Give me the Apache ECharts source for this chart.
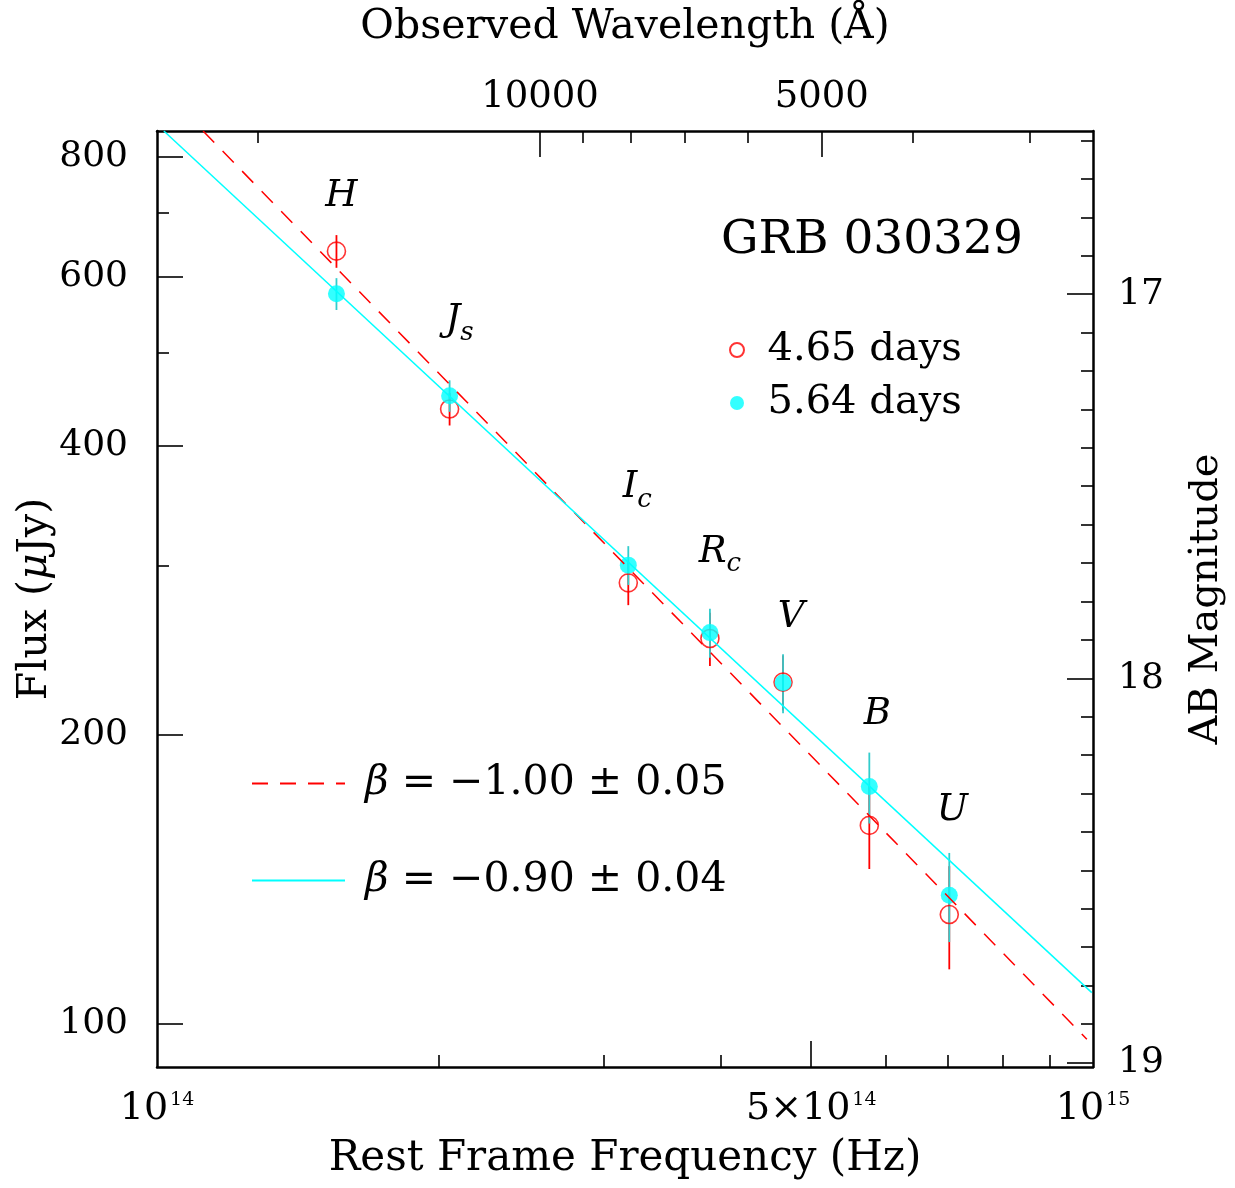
<!DOCTYPE html>
<html>
<head>
<meta charset="utf-8">
<script src="https://cdn.jsdelivr.net/npm/echarts@6/dist/echarts.min.js"></script>
<style>html,body{margin:0;padding:0;background:#fff}#c{width:1235px;height:1188px}</style>
</head>
<body>
<div id="c"></div>
<script>
// ---------------- data ----------------
const bandNames = ['H', 'J_s', 'I_c', 'R_c', 'V', 'B', 'U'];
const bandFreqHz = [1.555e14, 2.054e14, 3.188e14, 3.897e14, 4.665e14, 5.768e14, 7.022e14];
const fluxDay465 = [638, 437, 288, 252, 227, 161, 130];
const errDay465 = [25, 17, 15, 16, 15, 16, 16];
const fluxDay564 = [576, 451, 300.5, 255.6, 226.7, 176.7, 136.2];
const errDay564 = [22, 17, 14, 15, 16, 15, 14.5];
const epochLabels = ['4.65 days', '5.64 days'];

const fitRedFreqHz = [1.12e14, 9.85e14];
const fitRedFlux = [851, 96.4];
const fitCyanFreqHz = [1.017e14, 9.97e14];
const fitCyanFlux = [851, 107.8];
const fitLabels = ['β = −1.00 ± 0.05', 'β = −0.90 ± 0.04'];

const fluxMajorTicks = [100, 200, 400, 600, 800];
const fluxMinorTicks = [300, 500, 700];
const freqMajorTicks = [5e14];
const freqMinorTicks = [2e14, 3e14, 4e14, 6e14, 7e14, 8e14, 9e14];
const freqLabelTicks = [1e14, 5e14, 1e15];
const freqTickLabels = ['10^14', '5×10^14', '10^15'];
const waveMajorTicks = [10000, 5000];
const waveMinorTicks = [20000, 9000, 8000, 7000, 6000, 4000, 3000];
const magMajorTicks = [17, 18, 19];
const magMinorTicks = [16.6, 16.7, 16.8, 16.9, 17.1, 17.2, 17.3, 17.4, 17.5, 17.6, 17.7, 17.8, 17.9,
                       18.1, 18.2, 18.3, 18.4, 18.5, 18.6, 18.7, 18.8, 18.9];
const redshift = 0.1685;
const titleText = 'GRB 030329';

// ---------------- layout / style ----------------
const FREQ_MIN = 1e14, FREQ_MAX = 1e15;
const FLUX_MIN = 90.2, FLUX_MAX = 851;
const AB_ZERO_UJY = 23.9;
const C_ANG = 2.998e18;
const toMag = f => AB_ZERO_UJY - 2.5 * Math.log10(f);
const waveToFreq = w => C_ANG / (w * (1 + redshift));
const freqToWave = f => C_ANG / (f * (1 + redshift));
const MAG_TOP = toMag(FLUX_MAX), MAG_BOTTOM = toMag(FLUX_MIN);
// keep tick values a hair inside the axis extent so float rounding does not drop the end labels
const insideFreq = v => Math.min(Math.max(v, FREQ_MIN * (1 + 1e-9)), FREQ_MAX * (1 - 1e-9));

const bandLabelOffsets = [[5, -55], [10, -72], [9, -74], [10, -77], [8, -65], [8, -72], [3, -85]];

const SERIF = 'DejaVu Serif';
const RED = '#ff0000';
const CYAN = '#00ffff';
const CYAN_BAR = '#33cccc';
const tickLine = { color: '#000', width: 1.6 };
const frameLine = { color: '#000', width: 2.5 };
const minorLen = 12, majorLen = 26;

function nearestIndex(arr, v, logScale) {
  let best = 0, bd = Infinity;
  arr.forEach((a, i) => {
    const d = logScale ? Math.abs(Math.log10(a) - Math.log10(v)) : Math.abs(a - v);
    if (d < bd) { bd = d; best = i; }
  });
  return best;
}

function baseAxis(extra) {
  return Object.assign({
    splitLine: { show: false },
    minorTick: { show: false },
    minorSplitLine: { show: false },
    axisPointer: { show: false },
    nameMoveOverlap: false
  }, extra);
}

const xAxes = [
  baseAxis({ type: 'log', logBase: 10, position: 'bottom', min: FREQ_MIN, max: FREQ_MAX,
    axisLine: { show: true, onZero: false, lineStyle: frameLine },
    axisTick: { show: true, inside: true, length: minorLen, lineStyle: tickLine, customValues: freqMinorTicks },
    axisLabel: { show: false } }),
  baseAxis({ type: 'log', logBase: 10, position: 'bottom', min: FREQ_MIN, max: FREQ_MAX,
    axisLine: { show: false, onZero: false },
    axisTick: { show: true, inside: true, length: majorLen, lineStyle: tickLine, customValues: freqMajorTicks },
    axisLabel: { show: true, customValues: freqLabelTicks.map(insideFreq), margin: 23, color: '#000',
      showMinLabel: true, showMaxLabel: true, hideOverlap: false,
      formatter: v => {
        const s = freqTickLabels[nearestIndex(freqLabelTicks, v, true)].split('^');
        return '{b|' + s[0] + '}{e|' + s[1] + '}';
      },
      rich: {
        b: { fontFamily: SERIF, fontSize: 38, lineHeight: 38, color: '#000', verticalAlign: 'top' },
        e: { fontFamily: SERIF, fontSize: 19, lineHeight: 19, color: '#000', verticalAlign: 'top', padding: [1, 0, 0, 2] }
      } },
    name: 'Rest Frame Frequency (Hz)', nameLocation: 'middle', nameGap: 72,
    nameTextStyle: { fontFamily: SERIF, fontSize: 42, color: '#000', lineHeight: 40 } }),
  baseAxis({ type: 'log', logBase: 10, position: 'top', min: FREQ_MIN, max: FREQ_MAX,
    axisLine: { show: true, onZero: false, lineStyle: frameLine },
    axisTick: { show: true, inside: true, length: minorLen, lineStyle: tickLine, customValues: waveMinorTicks.map(waveToFreq) },
    axisLabel: { show: false } }),
  baseAxis({ type: 'log', logBase: 10, position: 'top', min: FREQ_MIN, max: FREQ_MAX,
    axisLine: { show: false, onZero: false },
    axisTick: { show: true, inside: true, length: majorLen, lineStyle: tickLine, customValues: waveMajorTicks.map(waveToFreq) },
    axisLabel: { show: true, customValues: waveMajorTicks.map(waveToFreq), margin: 15,
      fontFamily: SERIF, fontSize: 37, color: '#000',
      formatter: v => String(waveMajorTicks[nearestIndex(waveMajorTicks, freqToWave(v), true)]) },
    name: 'Observed Wavelength (Å)', nameLocation: 'middle', nameGap: 84,
    nameTextStyle: { fontFamily: SERIF, fontSize: 41, color: '#000', lineHeight: 40 } })
];

const yAxes = [
  baseAxis({ type: 'log', logBase: 10, position: 'left', min: FLUX_MIN, max: FLUX_MAX,
    axisLine: { show: true, onZero: false, lineStyle: frameLine },
    axisTick: { show: true, inside: true, length: minorLen, lineStyle: tickLine, customValues: fluxMinorTicks },
    axisLabel: { show: false } }),
  baseAxis({ type: 'log', logBase: 10, position: 'left', min: FLUX_MIN, max: FLUX_MAX,
    axisLine: { show: false, onZero: false },
    axisTick: { show: true, inside: true, length: majorLen, lineStyle: tickLine, customValues: fluxMajorTicks },
    axisLabel: { show: true, customValues: fluxMajorTicks, margin: 29, fontFamily: SERIF, fontSize: 36, color: '#000',
      formatter: v => String(fluxMajorTicks[nearestIndex(fluxMajorTicks, v, true)]) },
    name: 'Flux ({i|μ}Jy)', nameLocation: 'middle', nameGap: 102, nameRotate: 90,
    nameTextStyle: { fontFamily: SERIF, fontSize: 41, color: '#000', lineHeight: 40,
      rich: { i: { fontFamily: SERIF, fontStyle: 'italic', fontSize: 41, color: '#000', lineHeight: 40 } } } }),
  baseAxis({ type: 'value', position: 'right', inverse: true, min: MAG_TOP, max: MAG_BOTTOM,
    axisLine: { show: true, onZero: false, lineStyle: frameLine },
    axisTick: { show: true, inside: true, length: minorLen, lineStyle: tickLine, customValues: magMinorTicks },
    axisLabel: { show: false } }),
  baseAxis({ type: 'value', position: 'right', inverse: true, min: MAG_TOP, max: MAG_BOTTOM,
    axisLine: { show: false, onZero: false },
    axisTick: { show: true, inside: true, length: majorLen, lineStyle: tickLine, customValues: magMajorTicks },
    axisLabel: { show: true, customValues: magMajorTicks, margin: 25, fontFamily: SERIF, fontSize: 36, color: '#000',
      showMinLabel: true, showMaxLabel: true,
      formatter: v => String(magMajorTicks[nearestIndex(magMajorTicks, v, false)]) },
    name: 'AB Magnitude', nameLocation: 'middle', nameGap: 94, nameRotate: 90,
    nameTextStyle: { fontFamily: SERIF, fontSize: 40, color: '#000', lineHeight: 40 } })
];

function errSeries(name, flux, err, color) {
  return {
    type: 'custom', name: name, xAxisIndex: 0, yAxisIndex: 0, silent: true,
    data: bandFreqHz.map((f, i) => [f, flux[i] - err[i], flux[i] + err[i]]),
    encode: { x: 0, y: [1, 2] },
    renderItem: (params, api) => {
      const p1 = api.coord([api.value(0), api.value(1)]);
      const p2 = api.coord([api.value(0), api.value(2)]);
      return { type: 'line', shape: { x1: p1[0], y1: p1[1], x2: p2[0], y2: p2[1] },
               style: { stroke: color, lineWidth: 1.8 } };
    }
  };
}

function bandRich(name) {
  const p = name.split('_');
  return p.length > 1 ? '{m|' + p[0] + '}{s|' + p[1] + '}' : '{m|' + p[0] + '}';
}

const option = {
  animation: false,
  backgroundColor: '#fff',
  textStyle: { fontFamily: SERIF, color: '#000' },
  grid: { left: 157, right: 142, top: 131, bottom: 121, containLabel: false, outerBoundsMode: 'none' },
  title: { text: titleText, left: 721, top: 216, padding: 0,
    textStyle: { fontFamily: SERIF, fontSize: 47, fontWeight: 'normal', color: '#000', lineHeight: 50 } },
  legend: [
    { data: epochLabels, orient: 'vertical', left: 729, top: 330, padding: 0, itemGap: 13,
      itemWidth: 51, itemHeight: 14, selectedMode: false,
      textStyle: { fontFamily: SERIF, fontSize: 40, color: '#000', lineHeight: 40 } },
    { data: fitLabels, orient: 'vertical', left: 251, top: 763, padding: 0, itemGap: 56,
      itemWidth: 93, itemHeight: 14, selectedMode: false,
      itemStyle: { opacity: 0 },
      formatter: n => n.replace('β', '{i|β}'),
      textStyle: { fontFamily: SERIF, fontSize: 41, color: '#000', lineHeight: 40,
        rich: { i: { fontFamily: SERIF, fontStyle: 'italic', fontSize: 41, color: '#000', lineHeight: 40, padding: [0, 0, 0, 15] } } } }
  ],
  xAxis: xAxes,
  yAxis: yAxes,
  series: [
    { type: 'line', name: fitLabels[0], xAxisIndex: 0, yAxisIndex: 0, symbol: 'none', silent: true, color: RED,
      data: fitRedFreqHz.map((f, i) => [f, fitRedFlux[i]]),
      lineStyle: { color: RED, width: 1.5, type: [16, 12] } },
    { type: 'line', name: fitLabels[1], xAxisIndex: 0, yAxisIndex: 0, symbol: 'none', silent: true, color: CYAN,
      data: fitCyanFreqHz.map((f, i) => [f, fitCyanFlux[i]]),
      lineStyle: { color: CYAN, width: 1.5, type: 'solid' } },
    { type: 'scatter', name: epochLabels[0], xAxisIndex: 0, yAxisIndex: 0, symbol: 'circle', symbolSize: 18, silent: true,
      data: bandFreqHz.map((f, i) => [f, fluxDay465[i]]),
      itemStyle: { color: 'rgba(255,255,255,0)', borderColor: RED, borderWidth: 1.6 } },
    errSeries('err465', fluxDay465, errDay465, RED),
    { type: 'scatter', name: epochLabels[1], xAxisIndex: 0, yAxisIndex: 0, symbol: 'circle', symbolSize: 17, silent: true,
      data: bandFreqHz.map((f, i) => [f, fluxDay564[i]]),
      itemStyle: { color: CYAN, borderWidth: 0 } },
    errSeries('err564', fluxDay564, errDay564, CYAN_BAR),
    { type: 'scatter', name: 'bands', xAxisIndex: 0, yAxisIndex: 0, symbolSize: 0, silent: true,
      data: bandFreqHz.map((f, i) => ({ value: [f, Math.max(fluxDay465[i], fluxDay564[i])],
        label: { offset: bandLabelOffsets[i] } })),
      label: { show: true, position: 'inside', color: '#000', textBorderWidth: 0, opacity: 1,
        formatter: p => bandRich(bandNames[p.dataIndex]),
        rich: {
          m: { fontFamily: SERIF, fontStyle: 'italic', fontSize: 37, color: '#000', verticalAlign: 'top',
               textBorderWidth: 0 },
          s: { fontFamily: SERIF, fontStyle: 'italic', fontSize: 26, color: '#000', verticalAlign: 'top',
               textBorderWidth: 0, padding: [18, 0, 0, 0] }
        } },
      itemStyle: { color: 'rgba(0,0,0,0)' } }
  ]
};

const chart = echarts.init(document.getElementById('c'), null, { renderer: 'canvas', width: 1235, height: 1188 });
chart.setOption(option);
</script>
</body>
</html>
